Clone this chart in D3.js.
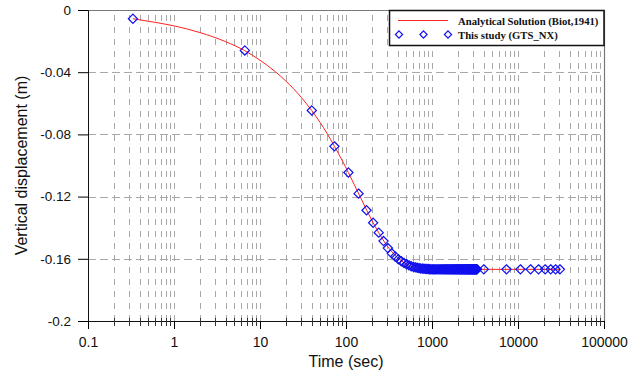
<!DOCTYPE html>
<html>
<head>
<meta charset="utf-8">
<script src="https://cdn.jsdelivr.net/npm/d3@7"></script>
<style>
    body { margin: 0; background: #fff; }
    svg { display: block; }
    text { font-family: "Liberation Sans", Arial, sans-serif; fill: #111; }
    .legend text { font-family: "Liberation Serif", "Times New Roman", serif; font-weight: bold; }
</style>
</head>
<body>
<div id="chart"></div>
<script>
// tick values / labels
var xMajor = [0.1, 1, 10, 100, 1000, 10000, 100000];
var xMajorLabels = ["0.1", "1", "10", "100", "1000", "10000", "100000"];
var yTicks = [0, -0.04, -0.08, -0.12, -0.16, -0.2];
var yTickLabels = ["0", "-0.04", "-0.08", "-0.12", "-0.16", "-0.2"];

// Analytical Solution (Biot,1941)
var analyticTime = [0.333, 0.5, 1, 2, 4, 6.667, 10, 15, 20, 30, 40, 50, 60, 73.3, 90, 106.7,
    125, 150, 175, 200, 240, 280, 320, 370, 440, 500, 600, 700, 850, 1000, 1500, 30667];
var analyticDisp = [-0.0056, -0.0072, -0.0102, -0.0145, -0.0204, -0.0262, -0.0323, -0.0396,
    -0.0457, -0.0560, -0.0647, -0.0723, -0.0792, -0.0876, -0.0966, -0.1046, -0.1124, -0.1214,
    -0.1290, -0.1353, -0.1432, -0.1492, -0.1536, -0.1576, -0.1613, -0.1632, -0.1651, -0.1660,
    -0.1665, -0.1667, -0.1668, -0.1668];

// This study (GTS_NX)
var studyTime = [0.333, 6.667, 40, 73.3,
    106.7, 140, 173.3, 206.7, 240, 273.3, 306.7, 340, 373.3, 406.7, 440, 473.3, 506.7, 540,
    573.3, 606.7, 640, 673.3, 706.7, 740, 773.3, 806.7, 840, 873.3, 906.7, 940, 973.3,
    1006.7, 1040, 1073.3, 1106.7, 1140, 1173.3, 1206.7, 1240, 1273.3, 1306.7, 1340, 1373.3,
    1406.7, 1440, 1473.3, 1506.7, 1540, 1573.3, 1606.7, 1640, 1673.3, 1706.7, 1740, 1773.3,
    1806.7, 1840, 1873.3, 1906.7, 1940, 1973.3,
    2006.7, 2040, 2073.3, 2106.7, 2140, 2173.3, 2206.7, 2240, 2273.3, 2306.7, 2340, 2373.3,
    2406.7, 2440, 2473.3, 2506.7, 2540, 2573.3, 2606.7, 2640, 2673.3, 2706.7, 2740, 2773.3,
    2806.7, 2840, 2873.3, 2906.7, 2940, 2973.3,
    3006.7, 3040, 3073.3, 3106.7, 3140, 3173.3, 3206.7, 3240, 3273.3, 3306.7, 3340,
    4000, 7333, 10667, 14000, 17333, 20667, 24000, 27333, 30667];
var studyDisp = [-0.0056, -0.0260, -0.0646, -0.0877,
    -0.1045, -0.1181, -0.1288, -0.1368, -0.1432, -0.1486, -0.1531, -0.1565, -0.1585, -0.1603,
    -0.1616, -0.1627, -0.1635, -0.1642, -0.1648, -0.1652, -0.1655, -0.1658, -0.1660, -0.1662,
    -0.1663, -0.1664, -0.1665, -0.1666, -0.1666, -0.1667, -0.1667,
    -0.1668, -0.1668, -0.1668, -0.1668, -0.1668, -0.1668, -0.1668, -0.1668, -0.1668, -0.1668,
    -0.1668, -0.1668, -0.1668, -0.1668, -0.1668, -0.1668, -0.1668, -0.1668, -0.1668, -0.1668,
    -0.1668, -0.1668, -0.1668, -0.1668, -0.1668, -0.1668, -0.1668, -0.1668, -0.1668, -0.1668,
    -0.1668, -0.1668, -0.1668, -0.1668, -0.1668, -0.1668, -0.1668, -0.1668, -0.1668, -0.1668,
    -0.1668, -0.1668, -0.1668, -0.1668, -0.1668, -0.1668, -0.1668, -0.1668, -0.1668, -0.1668,
    -0.1668, -0.1668, -0.1668, -0.1668, -0.1668, -0.1668, -0.1668, -0.1668, -0.1668, -0.1668,
    -0.1668, -0.1668, -0.1668, -0.1668, -0.1668, -0.1668, -0.1668, -0.1668, -0.1668, -0.1668,
    -0.1668,
    -0.1668, -0.1668, -0.1668, -0.1668, -0.1668, -0.1668, -0.1668, -0.1668, -0.1668];

var width = 640, height = 374;
var margin = { top: 10, right: 36, bottom: 53, left: 88 };

var svg = d3.select("#chart").append("svg")
    .attr("width", width)
    .attr("height", height);

var x = d3.scaleLog()
    .domain([0.1, 100000])
    .range([margin.left, width - margin.right]);
var y = d3.scaleLinear()
    .domain([-0.2, 0])
    .range([height - margin.bottom, margin.top]);

var x0 = x.range()[0], x1 = x.range()[1];
var y0 = y.range()[0], y1 = y.range()[1];

// grid lines
var allX = x.ticks().filter(d => d > 0.1 && d < 100000);
svg.append("g").selectAll("line")
    .data(allX)
    .enter().append("line")
    .attr("x1", d => Math.round(x(d)) + 0.5)
    .attr("x2", d => Math.round(x(d)) + 0.5)
    .attr("y1", y1 + 5)
    .attr("y2", y0)
    .attr("stroke", "#a8a8a8")
    .attr("stroke-dasharray", "6,6");

svg.append("g").selectAll("line")
    .data(yTicks.filter(d => d != 0 && d != -0.2))
    .enter().append("line")
    .attr("x1", x0)
    .attr("x2", x1)
    .attr("y1", d => Math.round(y(d)) + 0.5)
    .attr("y2", d => Math.round(y(d)) + 0.5)
    .attr("stroke", "#a8a8a8")
    .attr("stroke-dasharray", "8,4");

// frame (top / right)
svg.append("path")
    .attr("d", "M" + (x0 - 10) + "," + (y1 + 0.5) + "H" + (x1 + 0.5) + "V" + y0)
    .attr("fill", "none")
    .attr("stroke", "#777")
    .attr("stroke-width", 1.2);

// analytical curve
var line = d3.line()
    .x(d => x(d[0]))
    .y(d => y(d[1]))
    .curve(d3.curveMonotoneX);

svg.append("path")
    .datum(d3.zip(analyticTime, analyticDisp))
    .attr("d", line)
    .attr("fill", "none")
    .attr("stroke", "#ff2020")
    .attr("stroke-width", 1);

// study points
var diamond = r => "M0," + (-r) + "L" + r + ",0L0," + r + "L" + (-r) + ",0Z";

svg.append("g").selectAll("path")
    .data(d3.zip(studyTime, studyDisp))
    .enter().append("path")
    .attr("d", diamond(4.6))
    .attr("transform", d => "translate(" + x(d[0]) + "," + y(d[1]) + ")")
    .attr("fill", "none")
    .attr("stroke", "#1010ee")
    .attr("stroke-width", 1.2);

// axes
var xAxis = svg.append("g")
    .attr("transform", "translate(0," + y0 + ")")
    .call(d3.axisBottom(x).tickValues(xMajor).tickSize(8).tickPadding(8)
        .tickFormat((d, i) => xMajorLabels[i]));
xAxis.select(".domain").attr("stroke", "#111");
xAxis.selectAll("text").attr("font-size", 14).attr("font-family", null);

// minor x ticks crossing the axis
svg.append("g").selectAll("line")
    .data(x.ticks().filter(d => xMajor.indexOf(d) < 0))
    .enter().append("line")
    .attr("x1", d => Math.round(x(d)) + 0.5)
    .attr("x2", d => Math.round(x(d)) + 0.5)
    .attr("y1", y0 - 3)
    .attr("y2", y0 + 5)
    .attr("stroke", "#333");

var yAxis = svg.append("g")
    .attr("transform", "translate(" + x0 + ",0)")
    .call(d3.axisLeft(y).tickValues(yTicks).tickSize(10).tickPadding(7)
        .tickFormat((d, i) => yTickLabels[i]));
yAxis.select(".domain").attr("stroke", "#111");
yAxis.selectAll("text").attr("font-size", 13.5).attr("font-family", null);

// axis titles
svg.append("text")
    .text("Time (sec)")
    .attr("x", (x0 + x1) / 2)
    .attr("y", 367)
    .attr("text-anchor", "middle")
    .attr("font-size", 16);

svg.append("text")
    .text("Vertical displacement (m)")
    .attr("transform", "translate(27," + ((y0 + y1) / 2) + ") rotate(-90)")
    .attr("text-anchor", "middle")
    .attr("font-size", 16);

// legend
var legend = svg.append("g").attr("class", "legend");
legend.append("rect")
    .attr("x", 389.5)
    .attr("y", 10.5)
    .attr("width", x1 - 389.5)
    .attr("height", 35)
    .attr("fill", "#fff")
    .attr("stroke", "#111")
    .attr("stroke-width", 1.5);

legend.append("line")
    .attr("x1", 398).attr("x2", 448)
    .attr("y1", 20.5).attr("y2", 20.5)
    .attr("stroke", "#ff2020");

legend.selectAll(".mk")
    .data([399, 423.5, 448])
    .enter().append("path")
    .attr("class", "mk")
    .attr("d", diamond(3.6))
    .attr("transform", d => "translate(" + d + ",34.5)")
    .attr("fill", "none")
    .attr("stroke", "#1010ee")
    .attr("stroke-width", 1.2);

legend.append("text")
    .text("Analytical Solution (Biot,1941)")
    .attr("x", 458).attr("y", 24.5)
    .attr("font-size", 10.7);
legend.append("text")
    .text("This study (GTS_NX)")
    .attr("x", 458).attr("y", 38.5)
    .attr("font-size", 10.7);
</script>
</body>
</html>
